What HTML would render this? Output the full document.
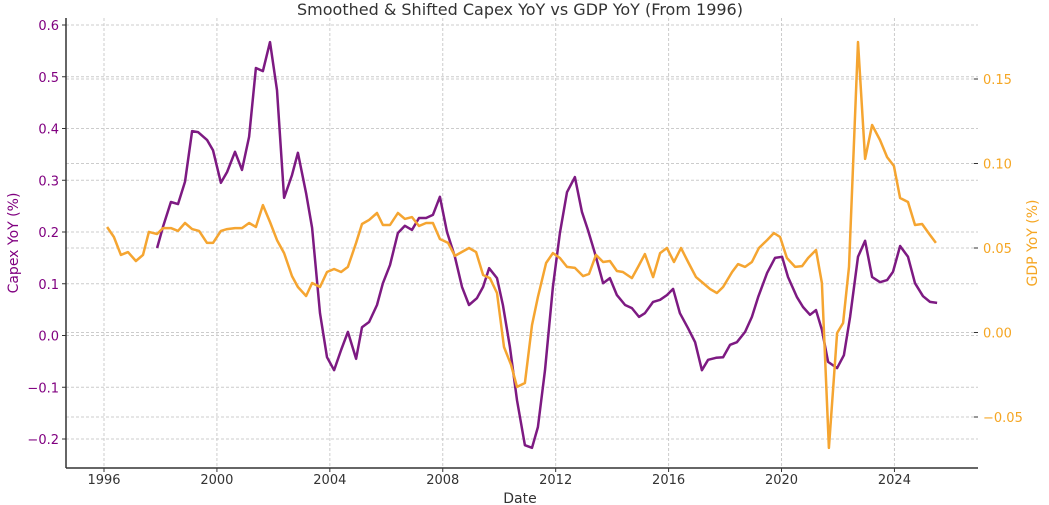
<!DOCTYPE html>
<html><head><meta charset="utf-8"><style>
html,body{margin:0;padding:0;background:#fff;}
svg{display:block;font-family:"DejaVu Sans","Liberation Sans",sans-serif;}
</style></head><body>
<svg id="chart" width="1049" height="505" viewBox="0 0 1049 505">
<text x="520" y="15" text-anchor="middle" font-size="16" fill="#333">Smoothed &amp; Shifted Capex YoY vs GDP YoY (From 1996)</text>
<g id="grid"></g><g id="axes"></g><g id="series"></g>
<text x="520" y="503" text-anchor="middle" font-size="14" fill="#333">Date</text>
<text transform="translate(18,243) rotate(-90)" text-anchor="middle" font-size="14" fill="#800080">Capex YoY (%)</text>
<text transform="translate(1037,243) rotate(-90)" text-anchor="middle" font-size="14" fill="#f5a623">GDP YoY (%)</text>
</svg>
<script>
const capexDates=[1997.88,1998.09,1998.37,1998.62,1998.87,1999.12,1999.33,1999.65,1999.86,2000.14,2000.36,2000.64,2000.89,2001.14,2001.38,2001.63,2001.88,2002.13,2002.38,2002.66,2002.87,2003.16,2003.37,2003.65,2003.90,2004.15,2004.40,2004.64,2004.93,2005.14,2005.39,2005.67,2005.88,2006.13,2006.41,2006.66,2006.91,2007.16,2007.41,2007.65,2007.90,2008.15,2008.43,2008.68,2008.93,2009.21,2009.43,2009.64,2009.92,2010.13,2010.38,2010.63,2010.91,2011.16,2011.37,2011.62,2011.90,2012.15,2012.40,2012.68,2012.93,2013.14,2013.39,2013.68,2013.92,2014.17,2014.46,2014.70,2014.95,2015.16,2015.45,2015.70,2015.94,2016.16,2016.40,2016.69,2016.94,2017.18,2017.40,2017.68,2017.93,2018.18,2018.42,2018.71,2018.95,2019.17,2019.49,2019.77,2020.02,2020.23,2020.55,2020.76,2021.01,2021.22,2021.43,2021.65,2021.97,2022.21,2022.43,2022.71,2022.96,2023.21,2023.49,2023.74,2023.95,2024.20,2024.48,2024.73,2025.01,2025.26,2025.51];
const capexValues=[0.169,0.210,0.258,0.254,0.297,0.395,0.393,0.378,0.358,0.295,0.316,0.355,0.320,0.384,0.517,0.511,0.567,0.474,0.266,0.310,0.353,0.275,0.208,0.043,-0.042,-0.067,-0.028,0.007,-0.045,0.016,0.026,0.059,0.101,0.136,0.198,0.212,0.204,0.227,0.227,0.233,0.268,0.200,0.152,0.094,0.059,0.072,0.094,0.130,0.111,0.059,-0.022,-0.125,-0.212,-0.217,-0.177,-0.067,0.094,0.198,0.277,0.306,0.239,0.204,0.159,0.101,0.111,0.078,0.059,0.053,0.036,0.043,0.065,0.069,0.078,0.090,0.043,0.014,-0.013,-0.067,-0.047,-0.043,-0.042,-0.018,-0.013,0.007,0.036,0.074,0.121,0.150,0.152,0.113,0.074,0.055,0.040,0.049,0.011,-0.051,-0.063,-0.038,0.036,0.152,0.183,0.113,0.103,0.107,0.123,0.173,0.152,0.101,0.076,0.065,0.063];
const gdpDates=[1996.11,1996.35,1996.60,1996.85,1997.13,1997.38,1997.59,1997.88,1998.09,1998.37,1998.62,1998.87,1999.12,1999.37,1999.65,1999.86,2000.14,2000.36,2000.64,2000.89,2001.14,2001.38,2001.63,2001.88,2002.13,2002.38,2002.66,2002.87,2003.16,2003.37,2003.65,2003.90,2004.15,2004.40,2004.64,2004.93,2005.14,2005.39,2005.67,2005.88,2006.13,2006.41,2006.66,2006.91,2007.16,2007.41,2007.65,2007.90,2008.19,2008.43,2008.93,2009.18,2009.43,2009.67,2009.92,2010.17,2010.42,2010.63,2010.91,2011.16,2011.37,2011.66,2011.90,2012.15,2012.40,2012.68,2012.97,2013.18,2013.43,2013.68,2013.92,2014.17,2014.38,2014.70,2014.92,2015.16,2015.45,2015.70,2015.94,2016.19,2016.44,2016.69,2016.97,2017.22,2017.47,2017.71,2017.93,2018.25,2018.46,2018.71,2018.95,2019.20,2019.49,2019.73,2019.95,2020.19,2020.48,2020.73,2020.94,2021.22,2021.43,2021.68,2021.97,2022.18,2022.39,2022.71,2022.96,2023.21,2023.49,2023.74,2023.98,2024.20,2024.48,2024.73,2024.98,2025.26,2025.47];
const gdpValues=[0.0624,0.0565,0.0459,0.0476,0.0423,0.0459,0.0595,0.0583,0.0618,0.0618,0.0601,0.0648,0.0612,0.0601,0.0530,0.0530,0.0601,0.0612,0.0618,0.0618,0.0648,0.0624,0.0754,0.0654,0.0547,0.0470,0.0334,0.0269,0.0216,0.0293,0.0269,0.0358,0.0376,0.0358,0.0388,0.0530,0.0642,0.0666,0.0707,0.0636,0.0636,0.0707,0.0672,0.0683,0.0630,0.0648,0.0648,0.0553,0.0530,0.0453,0.0500,0.0476,0.0340,0.0322,0.0234,-0.0086,-0.0192,-0.0322,-0.0299,0.0044,0.0210,0.0411,0.0470,0.0441,0.0388,0.0382,0.0334,0.0346,0.0459,0.0417,0.0423,0.0364,0.0358,0.0322,0.0388,0.0464,0.0328,0.0470,0.0500,0.0417,0.0500,0.0417,0.0328,0.0293,0.0257,0.0234,0.0269,0.0358,0.0405,0.0388,0.0417,0.0500,0.0547,0.0589,0.0565,0.0441,0.0388,0.0393,0.0441,0.0488,0.0293,-0.0683,-0.0003,0.0056,0.0388,0.1719,0.1027,0.1228,0.1139,0.1038,0.0985,0.0796,0.0772,0.0636,0.0642,0.0577,0.0530];
const xTicks=[1996,2000,2004,2008,2012,2016,2020,2024];
const leftTicks=[-0.2,-0.1,0.0,0.1,0.2,0.3,0.4,0.5,0.6];
const leftTickLabels=["\u22120.2","\u22120.1","0.0","0.1","0.2","0.3","0.4","0.5","0.6"];
const rightTicks=[-0.05,0.0,0.05,0.10,0.15];
const rightTickLabels=["\u22120.05","0.00","0.05","0.10","0.15"];

const L=66,R=978,T=18,B=468;
const xS=d=>104+(d-1996)*28.23;
const yL=v=>335.5-v*517.5;
const yR=v=>332.5-v*1690;
const NS="http://www.w3.org/2000/svg";
function mk(tag,attrs,parent,txt){const e=document.createElementNS(NS,tag);for(const k in attrs)e.setAttribute(k,attrs[k]);if(txt!==undefined)e.textContent=txt;parent.appendChild(e);return e;}
const grid=document.getElementById('grid'),axes=document.getElementById('axes'),series=document.getElementById('series');
xTicks.forEach(t=>{const x=xS(t);
 const g=mk('line',{x1:x,x2:x,y1:T,y2:B,stroke:'#ccc','stroke-width':1,'stroke-dasharray':'3,2'},grid);
 
 
 const tk=mk('line',{x1:x,x2:x,y1:B,y2:B+4,stroke:'#333'},axes);
 
 
 const lb=mk('text',{x:x,y:B+16,'text-anchor':'middle','font-size':13,fill:'#333'},axes,String(t));
 
 
});
leftTicks.forEach((t,i)=>{const y=yL(t);
 const g=mk('line',{x1:L,x2:R,y1:y,y2:y,stroke:'#ccc','stroke-width':1,'stroke-dasharray':'3,2'},grid);
 
 
 const tk=mk('line',{x1:L-4,x2:L,y1:y,y2:y,stroke:'#333'},axes);
 
 
 const lb=mk('text',{x:L-7,y:y+5,'text-anchor':'end','font-size':13,fill:'#800080'},axes,leftTickLabels[i]);
 
 
});
rightTicks.forEach((t,i)=>{const y=yR(t);
 const g=mk('line',{x1:L,x2:R,y1:y,y2:y,stroke:'#ccc','stroke-width':1,'stroke-dasharray':'3,2'},grid);
 
 
 const tk=mk('line',{x1:R-4,x2:R,y1:y,y2:y,stroke:'#333'},axes);
 
 
 const lb=mk('text',{x:R+5,y:y+5,'text-anchor':'start','font-size':13,fill:'#f5a623'},axes,rightTickLabels[i]);
 
 
});
const ls=mk('line',{x1:L,x2:L,y1:T,y2:B,stroke:'#333','stroke-width':1.5},axes);


const bs=mk('line',{x1:L,x2:R,y1:B,y2:B,stroke:'#333','stroke-width':1.5},axes);


const cp=mk('polyline',{points:capexDates.map((d,i)=>xS(d).toFixed(1)+','+yL(capexValues[i]).toFixed(1)).join(' '),fill:'none',stroke:'#7d1a82','stroke-width':2.5,'stroke-linejoin':'round'},series);


const gp=mk('polyline',{points:gdpDates.map((d,i)=>xS(d).toFixed(1)+','+yR(gdpValues[i]).toFixed(1)).join(' '),fill:'none',stroke:'#f5a531','stroke-width':2.5,'stroke-linejoin':'round'},series);


</script>
</body></html>
